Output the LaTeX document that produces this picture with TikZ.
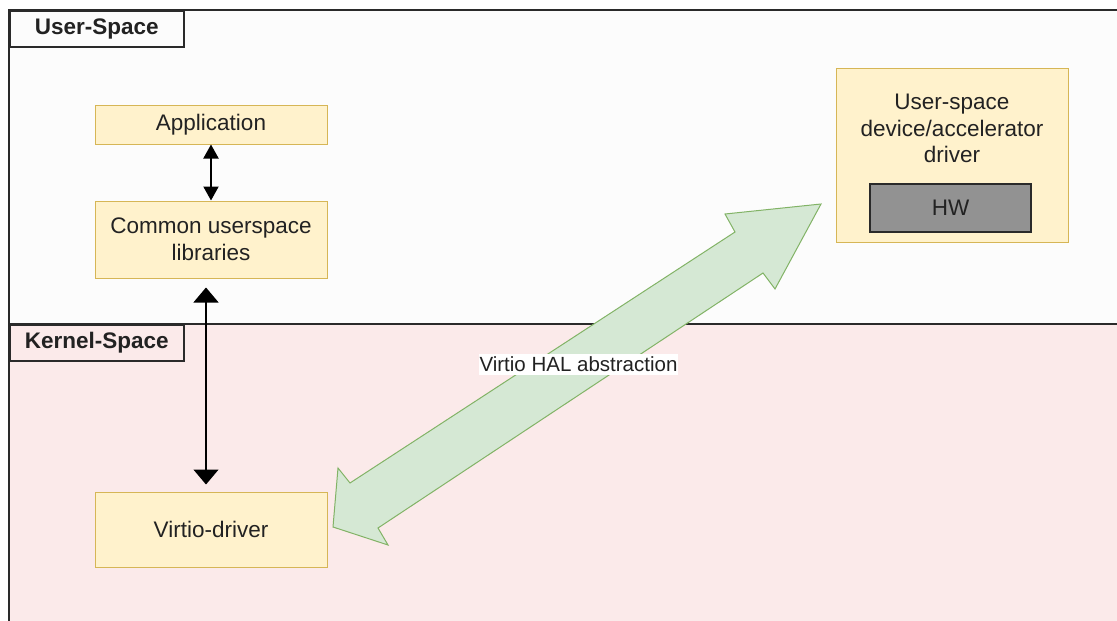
\documentclass[tikz,border=0pt]{standalone}
\usepackage{fontspec}
\setmainfont{Liberation Sans}
\usetikzlibrary{arrows.meta}
\definecolor{usrfill}{HTML}{FCFCFC}
\definecolor{kerfill}{HTML}{FBEAEA}
\definecolor{yfill}{HTML}{FFF2CC}
\definecolor{ydraw}{HTML}{D6B656}
\definecolor{gfill}{HTML}{D5E8D4}
\definecolor{gdraw}{HTML}{82B366}
\definecolor{hwfill}{HTML}{929292}
\definecolor{txt}{HTML}{222222}
\definecolor{frame}{HTML}{2A2A2A}
\tikzset{
  ybox/.style={draw=ydraw, fill=yfill, line width=1pt, inner sep=0pt, align=center,
    text=txt, font=\fontsize{22.5}{27.5}\selectfont},
  lanelabel/.style={draw=frame, line width=1.5pt, inner sep=0pt, anchor=north west,
    minimum width=174pt, minimum height=36pt, text=txt, font=\bfseries\fontsize{22.5}{27}\selectfont},
  dblarrow/.style={draw=black, line width=2pt, {Triangle[width=15pt,length=14pt]}-{Triangle[width=15pt,length=14pt]}},
  longarrow/.style={draw=black, line width=1.2pt, {Triangle[width=25pt,length=15pt]}-{Triangle[width=25pt,length=15pt]}},
}
\begin{document}
\begin{tikzpicture}[x=1pt,y=-1pt]
\useasboundingbox (0,0) rectangle (1117,621);
\clip (0,0) rectangle (1117,621);
\fill[white] (0,0) rectangle (1117,621);
% lanes
\filldraw[fill=usrfill, draw=frame, line width=1.5pt] (9,10) rectangle (1130,324);
\filldraw[fill=kerfill, draw=frame, line width=1.5pt] (9,324) rectangle (1130,640);
\node[lanelabel, fill=usrfill] (ulab) at (9,10) {User-Space};
\node[lanelabel, fill=kerfill] (klab) at (9,324) {Kernel-Space};
% boxes
\node[ybox, minimum width=232pt, minimum height=39pt] (app) at (211,124.5) {Application};
\node[ybox, minimum width=232pt, minimum height=77pt] (libs) at (211,239.5) {Common userspace\\libraries};
\node[ybox, minimum width=232pt, minimum height=75pt] (vdrv) at (211,529.5) {Virtio-driver};
\node[ybox, minimum width=232pt, minimum height=174pt] (udrv) at (952,155) {};
\node[align=center, text=txt, font=\fontsize{22.5}{26.5}\selectfont, inner sep=0pt] (udrvtxt) at (952,128.5) {User-space\\device/accelerator\\driver};
\node[draw=frame, fill=hwfill, line width=1.5pt, minimum width=161pt, minimum height=48pt, inner sep=0pt,
  text=txt, font=\fontsize{22.5}{27}\selectfont] (hw) at (950.5,208) {HW};
% arrows
\draw[dblarrow] (app.south) -- (libs.north);
\draw[longarrow] ([xshift=-5pt,yshift=-9pt]libs.south) -- ([xshift=-5pt,yshift=7pt]vdrv.north);
% green double arrow
\filldraw[fill=gfill, draw=gdraw, line width=1pt, line join=miter]
  (333,527) -- (338,468) -- (350,483) -- (735,232) -- (725,214) -- (821,204)
  -- (775,289) -- (763,273) -- (378,528) -- (388,545) -- cycle;
\node[fill=white, inner xsep=1pt, inner ysep=3pt, text=txt, font=\fontsize{20.5}{24}\selectfont] (hal) at (578.5,364.5) {Virtio HAL abstraction};
\end{tikzpicture}
\end{document}
